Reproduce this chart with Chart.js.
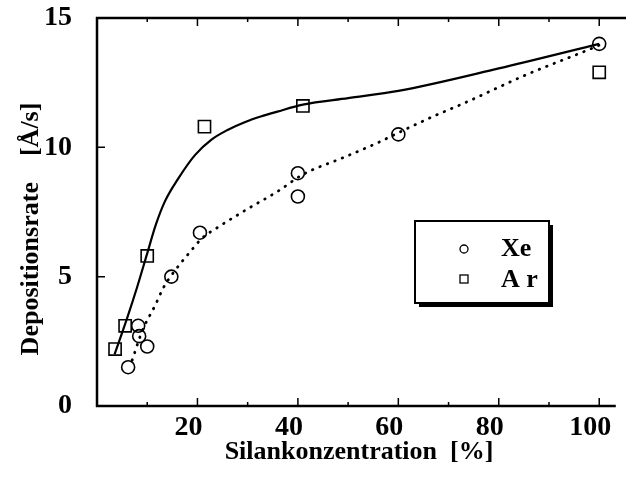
<!DOCTYPE html>
<html>
<head>
<meta charset="utf-8">
<script src="https://cdn.jsdelivr.net/npm/chart.js@4"></script>
<style>
html,body{margin:0;padding:0;background:#fff;}
#wrap{width:626px;height:477px;position:relative;}
</style>
</head>
<body>
<div id="wrap"><canvas id="c" width="626" height="477"></canvas></div>
<script>
// measured points
const xeX = [6.2, 8.2, 8.4, 10, 14.8, 20.5, 40, 40, 60, 100];
const xeY = [1.5, 3.1, 2.7, 2.3, 5.0, 6.7, 9.0, 8.1, 10.5, 14.0];
const arX = [3.6, 5.6, 10, 21.4, 41, 100];
const arY = [2.2, 3.1, 5.8, 10.8, 11.6, 12.9];
// fitted curves
const arFitX = [3.5, 6, 8, 10, 11.7, 13.5, 16.2, 19.5, 22.8, 26.1, 29.4, 32.6, 35.9, 41, 50, 60, 80, 100];
const arFitY = [2.0, 3.4, 4.6, 5.9, 7.0, 7.9, 8.8, 9.7, 10.3, 10.68, 10.97, 11.19, 11.38, 11.65, 11.9, 12.18, 13.05, 14.0];
const xeFitX = [7, 9, 11.6, 13.3, 15, 18.5, 21, 24, 29.4, 36, 41, 49, 55.6, 62, 67, 73, 86, 97.6, 100];
const xeFitY = [1.77, 2.9, 3.9, 4.6, 5.1, 5.95, 6.5, 6.9, 7.55, 8.3, 8.95, 9.6, 10.15, 10.75, 11.2, 11.7, 12.85, 13.75, 13.95];
const xTickLabels = [20, 40, 60, 80, 100];
const yTickLabels = [0, 5, 10, 15];
const seriesNames = ['Xe', 'Ar'];
const xTitle = 'Silankonzentration  [%]';
const yTitle = 'Depositionsrate    [Å/s]';

const pts = (xs, ys) => xs.map((v, i) => ({x: v, y: ys[i]}));
const FONT = "'Liberation Serif', 'DejaVu Serif', serif";

const framePlugin = {
  id: 'frame',
  afterDraw(chart) {
    const {ctx, chartArea: {left, right, top, bottom}, scales: {x, y}} = chart;
    ctx.save();
    ctx.strokeStyle = '#000';
    ctx.lineCap = 'butt';
    ctx.lineWidth = 2.5;
    ctx.beginPath();
    ctx.moveTo(left, top - 1); ctx.lineTo(left, bottom + 1);
    ctx.moveTo(left - 1, bottom); ctx.lineTo(right, bottom);
    ctx.moveTo(left - 1, top); ctx.lineTo(626, top);
    ctx.stroke();
    ctx.lineWidth = 1.5;
    ctx.beginPath();
    for (let v = 10; v <= 100; v += 10) {
      const px = x.getPixelForValue(v);
      const len = (v % 20 === 0) ? 8 : 4;
      ctx.moveTo(px, bottom); ctx.lineTo(px, bottom - len);
      ctx.moveTo(px, top); ctx.lineTo(px, top + len);
    }
    yTickLabels.forEach(v => {
      if (v === 0 || v === 15) return;
      const py = y.getPixelForValue(v);
      ctx.moveTo(left, py); ctx.lineTo(left + 8, py);
    });
    ctx.stroke();

    // axis titles
    ctx.fillStyle = '#000';
    ctx.font = "bold 26px " + FONT;
    ctx.textAlign = 'center';
    ctx.textBaseline = 'middle';
    ctx.fillText(xTitle, 359, 452);
    ctx.save();
    ctx.translate(31, 229);
    ctx.rotate(-Math.PI / 2);
    ctx.fillText(yTitle, 0, 0);
    ctx.restore();

    // legend box
    const bx = 415, by = 221, bw = 134, bh = 82;
    ctx.fillStyle = '#000';
    ctx.fillRect(bx + 4, by + 4, bw, bh);
    ctx.fillStyle = '#fff';
    ctx.fillRect(bx, by, bw, bh);
    ctx.lineWidth = 2;
    ctx.strokeStyle = '#000';
    ctx.strokeRect(bx, by, bw, bh);
    ctx.lineWidth = 1.3;
    ctx.beginPath();
    ctx.arc(464, 249, 4, 0, Math.PI * 2);
    ctx.stroke();
    ctx.strokeRect(460, 275, 8, 8);
    ctx.fillStyle = '#000';
    ctx.font = "bold 26px " + FONT;
    ctx.textAlign = 'left';
    ctx.textBaseline = 'middle';
    ctx.fillText(seriesNames[0], 501, 249);
    ctx.fillText('A r', 501, 280);
    ctx.restore();
  }
};

new Chart(document.getElementById('c'), {
  type: 'scatter',
  data: {
    datasets: [
      {label: 'Ar fit', data: pts(arFitX, arFitY), showLine: true, pointRadius: 0,
       borderColor: '#000', borderWidth: 2.2, cubicInterpolationMode: 'monotone'},
      {label: 'Xe fit', data: pts(xeFitX, xeFitY), showLine: true, pointRadius: 0,
       borderColor: '#000', borderWidth: 2.8, borderDash: [0.5, 7.5], borderCapStyle: 'round',
       cubicInterpolationMode: 'monotone'},
      {label: seriesNames[0], data: pts(xeX, xeY), pointStyle: 'circle', pointRadius: 6.5,
       borderColor: '#000', backgroundColor: 'rgba(0,0,0,0)', pointBorderWidth: 1.6},
      {label: seriesNames[1], data: pts(arX, arY), pointStyle: 'rect', pointRadius: 8.6,
       borderColor: '#000', backgroundColor: 'rgba(0,0,0,0)', pointBorderWidth: 1.6}
    ]
  },
  options: {
    responsive: false,
    animation: false,
    layout: {padding: {left: 0, right: 4, top: 18, bottom: 0}},
    plugins: {legend: {display: false}, tooltip: {enabled: false}},
    scales: {
      x: {
        type: 'linear', min: 0, max: 103.3,
        grid: {display: false, drawTicks: false}, border: {display: false},
        ticks: {stepSize: 10, includeBounds: false, padding: 5, labelOffset: -9, maxRotation: 0, autoSkip: false,
          color: '#000', font: {family: FONT, size: 28, weight: 'bold'},
          callback: v => xTickLabels.includes(v) ? String(v) : ''},
        afterFit: s => { s.height = 71; s.paddingLeft = 0; s.paddingRight = 0; }
      },
      y: {
        type: 'linear', min: 0, max: 15,
        grid: {display: false, drawTicks: false}, border: {display: false},
        ticks: {stepSize: 5, padding: 25, color: '#000', font: {family: FONT, size: 28, weight: 'bold'},
          callback: v => yTickLabels.includes(v) ? String(v) : ''},
        afterFit: s => { s.width = 97; s.paddingTop = 0; s.paddingBottom = 0; }
      }
    }
  },
  plugins: [framePlugin]
});
</script>
</body>
</html>
